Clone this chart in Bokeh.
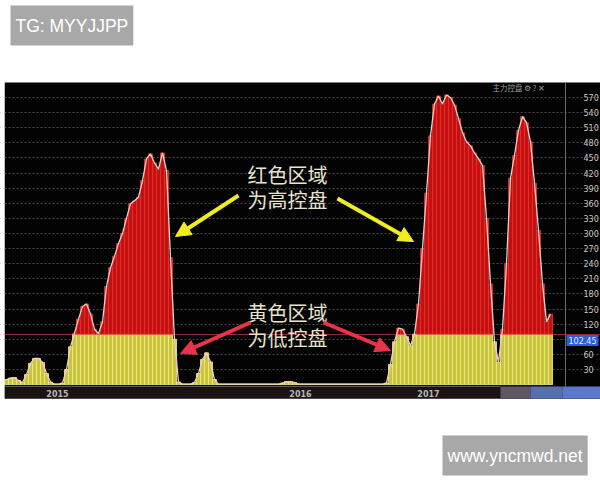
import numpy as np
from bokeh.plotting import figure
from bokeh.models import (Range1d, FixedTicker, Label, Arrow, NormalHead, LinearAxis,
                          Grid, BoxAnnotation)
from bokeh.embed import file_html
from bokeh.resources import INLINE

# ---- data ----
values = [10, 13, 14, 8, 4, 20, 42, 52, 52, 44,
          22, 5, 1, 1, 3, 30, 75, 102, 130, 155,
          160, 140, 110, 101, 125, 195, 232, 255, 280, 300,
          330, 359, 365, 372, 405, 448, 458, 440, 428, 460,
          425, 252, 90, 5, 1, 1, 1, 4, 22, 50,
          63, 45, 10, 1, 1, 1, 1, 1, 1, 1,
          1, 1, 1, 1, 1, 1, 1, 1, 1, 3,
          6, 6, 4, 1, 1, 1, 1, 1, 1, 1,
          1, 1, 1, 1, 1, 1, 1, 1, 1, 1,
          1, 1, 1, 1, 1, 3, 40, 85, 112, 110,
          95, 77, 100, 160, 270, 380, 494, 557, 573, 557,
          575, 570, 555, 528, 500, 482, 474, 460, 448, 435,
          330, 200, 85, 44, 110, 240, 410, 455, 505, 532,
          520, 482, 400, 306, 200, 125, 140]
threshold = 100
y_ticks = [30, 60, 90, 120, 150, 180, 210, 240, 270, 300,
           330, 360, 390, 420, 450, 480, 510, 540, 570]
year_labels = ["2015", "2016", "2017"]
year_positions = [12.75, 73.5, 105.5]
last_value_text = "102.45"
panel_title = "主力控盘  ⚙  ?  ✕"
note_high = ["红色区域", "为高控盘"]
note_low = ["黄色区域", "为低控盘"]
watermark_top = "TG: MYYJJPP"
watermark_bottom = "www.yncmwd.net"

W, H = 600, 480
X0, X1 = -1.5, 148.5          # data x across the canvas
Y0, Y1 = -190.4, 762.6        # data y across the canvas


def fx(px):   # canvas pixel -> data x (for annotation placement only)
    return X0 + px * (X1 - X0) / W


def fy(py):   # canvas pixel (from top) -> data y
    return Y1 - py * (Y1 - Y0) / H


x = np.arange(len(values))
v = np.array(values, dtype=float)
yellow_top = np.minimum(v, threshold)
mask = v > threshold

p = figure(width=W, height=H, output_backend="svg", toolbar_location=None,
           x_range=Range1d(X0, X1), y_range=Range1d(Y0, Y1),
           x_axis_location=None, y_axis_location=None, min_border=0)
p.background_fill_color = "white"
p.border_fill_color = "white"
p.outline_line_color = None
for r in list(p.center):
    if isinstance(r, Grid):
        r.visible = False

chart_right = fx(565)
chart_bottom = fy(398)
strip_top = fy(386)

# black chart panel and dark time strip
p.add_layout(BoxAnnotation(left=fx(4), right=X1, top=fy(82), bottom=chart_bottom,
                           fill_color="#030303", fill_alpha=1, line_color=None, level="image"))
p.add_layout(BoxAnnotation(left=fx(4), right=X1, top=strip_top, bottom=chart_bottom,
                           fill_color="#1a1313", fill_alpha=1, line_color=None, level="image"))
for l, r, c in [(500, 530, "#5e5866"), (530, 562, "#5670ae"), (562, 600, "#5b78cc")]:
    p.add_layout(BoxAnnotation(left=fx(l), right=fx(r), top=strip_top, bottom=chart_bottom,
                               fill_color=c, fill_alpha=1, line_color=None, level="image"))

# grid + threshold line
p.add_layout(Grid(dimension=1, ticker=FixedTicker(ticks=y_ticks), bounds=(fx(4), chart_right),
                  grid_line_color="#4a4a4a", grid_line_dash="2 2", grid_line_width=1))
p.add_layout(Grid(dimension=1, ticker=FixedTicker(ticks=[threshold]), bounds=(fx(4), chart_right),
                  grid_line_color="#8a2a3a", grid_line_width=1))
# white page margin left of the chart panel
p.add_layout(BoxAnnotation(left=X0, right=fx(4), top=fy(80), bottom=fy(400),
                           fill_color="white", fill_alpha=1, line_color=None, level="guide"))

# right axis
ya = LinearAxis(fixed_location=chart_right, ticker=FixedTicker(ticks=y_ticks),
                bounds=(strip_top, fy(82)))
ya.major_tick_out = 0
ya.major_tick_in = 0
ya.minor_tick_out = 0
ya.minor_tick_in = 0
ya.major_label_standoff = 18
ya.major_label_text_font = "DejaVu Sans"
ya.major_label_text_font_size = "8px"
ya.major_label_text_color = "#c8c8c8"
ya.axis_line_color = "#6a6a6a"
p.add_layout(ya, "right")

# bottom axis
xa = LinearAxis(fixed_location=strip_top, ticker=FixedTicker(ticks=year_positions),
                bounds=(fx(4), fx(500)))
xa.major_label_overrides = {pos: lab for pos, lab in zip(year_positions, year_labels)}
xa.major_tick_out = 0
xa.major_tick_in = 0
xa.minor_tick_out = 0
xa.minor_tick_in = 0
xa.major_label_standoff = 3
xa.major_label_text_font = "DejaVu Sans"
xa.major_label_text_font_size = "8px"
xa.major_label_text_font_style = "bold"
xa.major_label_text_color = "#b8b8b8"
xa.axis_line_color = "#5a5a5a"
p.add_layout(xa, "below")

# bars
p.vbar(x=x, bottom=0, top=yellow_top, width=1.0,
       fill_color="#c9c540", line_color="#f2ee8a", line_width=0.8)
p.vbar(x=x[mask], bottom=threshold, top=v[mask], width=1.0,
       fill_color="#c80e0e", line_color="#dc3a36", line_width=0.8)
p.line(x=x, y=v, line_color="#f0cfc8", line_width=1.3)

# notes
cn = "Noto Sans CJK SC"
for txt, py in zip(note_high, [174, 199]):
    p.add_layout(Label(x=fx(287), y=fy(py), text=txt, text_align="center", text_baseline="middle",
                       text_font=cn, text_font_size="20px", text_color="#e8e4d4"))
for txt, py in zip(note_low, [312, 337]):
    p.add_layout(Label(x=fx(287), y=fy(py), text=txt, text_align="center", text_baseline="middle",
                       text_font=cn, text_font_size="20px", text_color="#e8e4cc"))

# arrows
yel = "#f0ee1e"
red = "#e8344a"
for xs, ys, xe, ye, c in [(238, 195, 175, 236, yel),
                          (337, 198, 413, 241, yel),
                          (250, 322, 180, 353, red),
                          (323, 322, 390, 350, red)]:
    p.add_layout(Arrow(end=NormalHead(size=15, fill_color=c, line_color=c),
                       x_start=fx(xs), y_start=fy(ys), x_end=fx(xe), y_end=fy(ye),
                       line_color=c, line_width=4))

# panel title
p.add_layout(Label(x=fx(492), y=fy(87), text=panel_title, text_baseline="middle",
                   text_font=cn, text_font_size="7.5px", text_color="#9a9a9a"))

# last value box
p.add_layout(Label(x=fx(566), y=fy(340), text=last_value_text, text_baseline="middle",
                   text_font="DejaVu Sans", text_font_size="8px", text_color="#e8eeff",
                   background_fill_color="#2a5fd8", padding=(2, 2)))

# watermarks
p.add_layout(Label(x=fx(10), y=fy(25), text=watermark_top, text_baseline="middle",
                   text_font="Liberation Sans", text_font_size="17.5px", text_color="white",
                   background_fill_color="#a8a8a8", padding=(5, 10)))
p.add_layout(Label(x=fx(442), y=fy(455), text=watermark_bottom, text_baseline="middle",
                   text_font="Liberation Sans", text_font_size="17.5px", text_color="white",
                   background_fill_color="#a8a8a8", padding=(5, 10)))

open("out.html", "w").write(file_html(p, INLINE))
